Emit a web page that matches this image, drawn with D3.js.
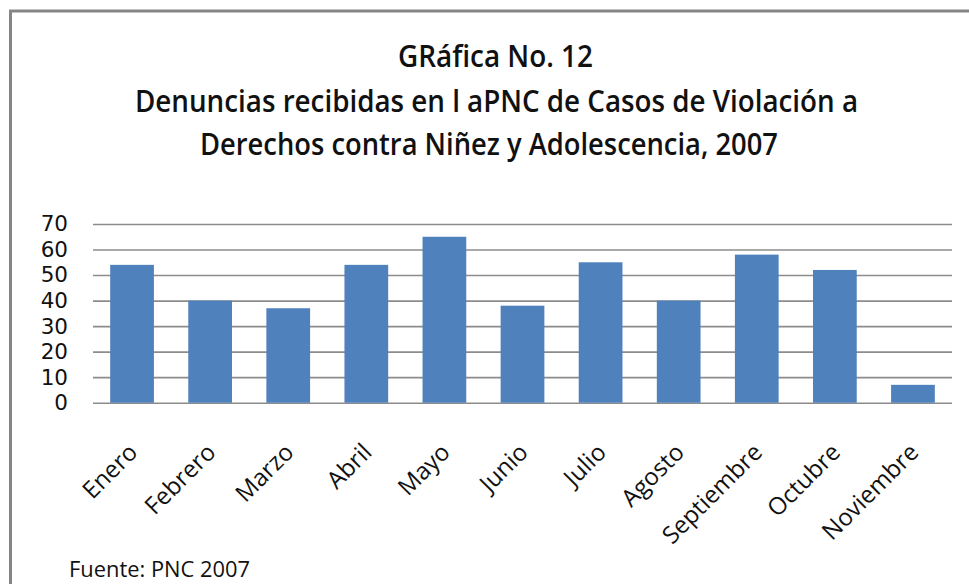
<!DOCTYPE html>
<html>
<head>
<meta charset="utf-8">
<script src="https://cdn.jsdelivr.net/npm/d3@7"></script>
<style>
  body { margin: 0; background: #fff; }
  text { font-family: "Open Sans", sans-serif; fill: #111; }
</style>
</head>
<body>
<div id="chart"></div>
<script>
// data
var months = ["Enero", "Febrero", "Marzo", "Abril", "Mayo", "Junio", "Julio", "Agosto", "Septiembre", "Octubre", "Noviembre"];
var counts = [54, 40, 37, 54, 65, 38, 55, 40, 58, 52, 7];
var yTicks = [0, 10, 20, 30, 40, 50, 60, 70];
var titleLines = ["GRáfica No. 12", "Denuncias recibidas en l aPNC de Casos de Violación a", "Derechos contra Niñez y Adolescencia, 2007"];
var source = "Fuente:  PNC 2007";

var W = 969, H = 584;
var plot = {left: 93, right: 952, top: 224, bottom: 402.7};

var svg = d3.select("#chart").append("svg")
  .attr("width", W)
  .attr("height", H);

// frame
svg.append("rect")
  .attr("x", 10.5).attr("y", 11)
  .attr("width", 1000).attr("height", 620)
  .attr("fill", "#fff")
  .attr("stroke", "#858585")
  .attr("stroke-width", 3);

// title
var titlePos = [{x: 398, y: 66.7, len: 195}, {x: 135, y: 111.7, len: 723}, {x: 200, y: 155, len: 578}];
svg.selectAll(".titel").data(titleLines).enter()
  .append("text")
  .attr("class", "titel")
  .attr("x", function(d, i) { return titlePos[i].x; })
  .attr("y", function(d, i) { return titlePos[i].y; })
  .attr("textLength", function(d, i) { return titlePos[i].len; })
  .attr("lengthAdjust", "spacingAndGlyphs")
  .style("font-size", "30px")
  .style("font-weight", "600")
  .text(function(d) { return d; });

var xScale = d3.scaleBand()
  .domain(months)
  .range([plot.left, plot.right])
  .paddingInner(0.44)
  .paddingOuter(0.22);

var yScale = d3.scaleLinear()
  .domain([0, 70])
  .range([plot.bottom, plot.top]);

// gridlines
var yAxis = d3.axisLeft(yScale)
  .tickValues(yTicks)
  .tickSize(-(plot.right - plot.left))
  .tickPadding(25);

var gy = svg.append("g")
  .attr("class", "y_axis")
  .attr("transform", "translate(" + plot.left + ",0)")
  .call(yAxis);
gy.select(".domain").remove();
gy.selectAll("line")
  .attr("stroke", "#8c8c8c")
  .attr("stroke-width", 1.6);
gy.selectAll("text")
  .attr("fill", "#111")
  .style("font-size", "21.5px")
  .style("font-family", "'DejaVu Sans', sans-serif");

// bars
svg.selectAll(".bar").data(counts).enter()
  .append("rect")
  .attr("class", "bar")
  .attr("x", function(d, i) { return xScale(months[i]); })
  .attr("y", function(d) { return yScale(d); })
  .attr("width", xScale.bandwidth())
  .attr("height", function(d) { return yScale(0) - yScale(d); })
  .attr("fill", "#4f81bd");

// x labels, rotated
var xAxis = d3.axisBottom(xScale).tickSize(0).tickPadding(0);
var gx = svg.append("g")
  .attr("class", "x_axis")
  .attr("transform", "translate(0," + plot.bottom + ")")
  .call(xAxis);
gx.select(".domain").remove();
gx.selectAll("text")
  .attr("fill", "#111")
  .style("font-size", "24px")
  .style("font-family", "'Open Sans', sans-serif")
  .attr("text-anchor", "end")
  .attr("dy", null)
  .attr("y", 0)
  .attr("transform", "translate(7,51) rotate(-45)");

// source note
svg.append("text")
  .attr("x", 69)
  .attr("y", 577)
  .attr("textLength", 181)
  .attr("lengthAdjust", "spacingAndGlyphs")
  .style("font-size", "21px")
  .text(source);
</script>
</body>
</html>
